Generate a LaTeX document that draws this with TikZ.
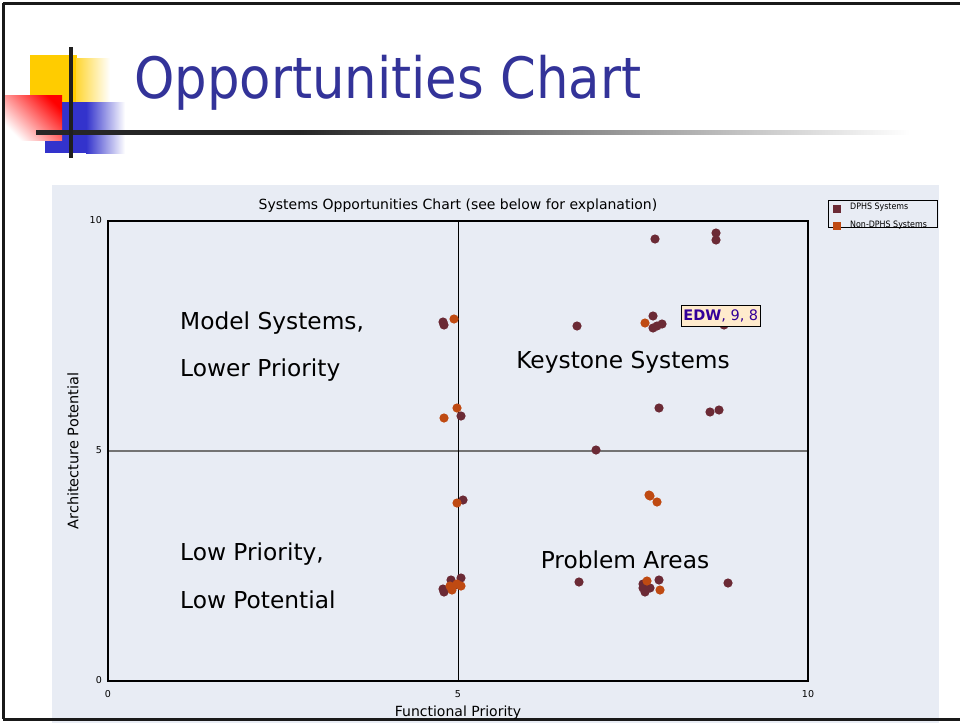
\documentclass[tikz,border=0pt]{standalone}
\usepackage{fontspec}
\setmainfont{DejaVu Sans}
\newfontfamily\tah[FakeStretch=0.9]{DejaVu Sans}
\usetikzlibrary{calc}
\definecolor{titleblue}{HTML}{333399}
\definecolor{chartbg}{HTML}{E8ECF4}
\definecolor{dphs}{HTML}{6B2A35}
\definecolor{ndphs}{HTML}{BF4A12}
\definecolor{logoyellow}{HTML}{FFCC00}
\definecolor{logoblue}{HTML}{3333CC}
\definecolor{tipfill}{HTML}{FFEBCD}
\definecolor{tiptext}{HTML}{330099}
\tikzset{
  dp/.style={fill=dphs},
  nd/.style={fill=ndphs},
  quad/.style={font=\fontsize{23.3}{28}\selectfont, text=black, inner sep=0pt},
  tick/.style={font=\fontsize{9.5}{11}\selectfont, inner sep=1pt},
  axlab/.style={font=\fontsize{14}{16}\selectfont, inner sep=0pt},
}
\begin{document}
\begin{tikzpicture}[x=1pt,y=-1pt]
\useasboundingbox (0,0) rectangle (960,723);
\fill[white] (0,0) rectangle (960,723);
% logo
\fill[logoyellow] (30,55) rectangle (77,102);
\shade[left color=logoyellow!80, right color=white] (76,58) rectangle (110,102);
\fill[logoblue] (45,102) rectangle (87,153);
\shade[left color=logoblue, right color=white] (86,102) rectangle (125,153);
\shade[top color=red, bottom color=white, shading angle=-45] (5,95) rectangle (62,140);
\shade[left color=black!85, right color=black!85] (36,130) rectangle (301,134);
\shade[left color=black!85, right color=white] (300,130) rectangle (910,134);
\fill[black!88] (69,47) rectangle (73,158);
% title
\node[anchor=base west, inner sep=0pt, text=titleblue, font=\tah\fontsize{57}{60}\selectfont] (title) at (134,98) {Opportunities Chart};
% chart background
\fill[chartbg] (52,185) rectangle (939,723);
% slide frame
\draw[line width=3pt, black!90] (3,3) -- (960,3);
\draw[line width=3pt, black!90] (3,3) -- (3,719);
\draw[line width=3pt, black!90] (3,719) -- (960,719);
% chart title
\node[axlab] (ctitle) at (458,206) {Systems Opportunities Chart (see below for explanation)};
% quadrant lines
\draw[line width=2pt, black!55] (108,451) -- (808,451);
\draw[line width=0.8pt, black] (458,221) -- (458,681);
% plot box
\draw[line width=2pt, black] (108,221) rectangle (808,681);
% ticks
\node[tick, anchor=east] (y10) at (103,220) {10};
\node[tick, anchor=east] (y5) at (103,450) {5};
\node[tick, anchor=east] (y0) at (103,680) {0};
\node[tick] (x0) at (108,694) {0};
\node[tick] (x5) at (458,694) {5};
\node[tick] (x10) at (808,694) {10};
\node[axlab] (xlab) at (458,713) {Functional Priority};
\node[axlab, font=\fontsize{14.5}{16}\selectfont, rotate=90] (ylab) at (73,451) {Architecture Potential};
% quadrant labels
\node[quad, anchor=base west] (q1a) at (180,329) {Model Systems,};
\node[quad, anchor=base west] (q1b) at (180,376) {Lower Priority};
\node[quad, anchor=base] (q2) at (623,368) {Keystone Systems};
\node[quad, anchor=base west] (q3a) at (180,560) {Low Priority,};
\node[quad, anchor=base west] (q3b) at (180,608) {Low Potential};
\node[quad, anchor=base] (q4) at (625,568) {Problem Areas};
% dots DPHS
\foreach \x/\y in {655/239,716/233,716/240,
  443/322,444/325,577/326,653/316,653/328,657/326,662/324,724/325,
  461/416,659/408,710/412,719/410,596/450,463/500,
  443/589,444/592,451/580,461/578,455/585,579/582,
  643/584,645/592,650/588,659/580,643/588,728/583}
  \fill[dp] (\x,\y) circle (4.6);
% dots Non-DPHS
\foreach \x/\y in {454/319,645/323,444/418,457/408,649/495,650/496,657/502,457/503,
  452/590,457/584,450/586,461/586,647/581,660/590}
  \fill[nd] (\x,\y) circle (4.6);
% tooltip
\node[draw=black, fill=tipfill, line width=0.8pt, inner sep=2pt, minimum height=21pt, anchor=west,
      font=\fontsize{14.5}{16}\selectfont, text=tiptext] (tip) at (681,315.5) {\textbf{EDW}, 9, 8};
% legend
\node[draw=black, line width=0.6pt, fill=chartbg, minimum width=109pt, minimum height=27pt, inner sep=0pt, anchor=north west] (legend) at (828,200) {};
\fill[dphs] (833,205) rectangle (841,213);
\fill[ndphs] (833,222) rectangle (841,230);
\node[anchor=west, font=\tah\fontsize{8.8}{10}\selectfont, inner sep=0pt] (l1) at (850,207) {DPHS Systems};
\node[anchor=west, font=\tah\fontsize{8.8}{10}\selectfont, inner sep=0pt] (l2) at (850,225) {Non-DPHS Systems};
\end{tikzpicture}
\end{document}
